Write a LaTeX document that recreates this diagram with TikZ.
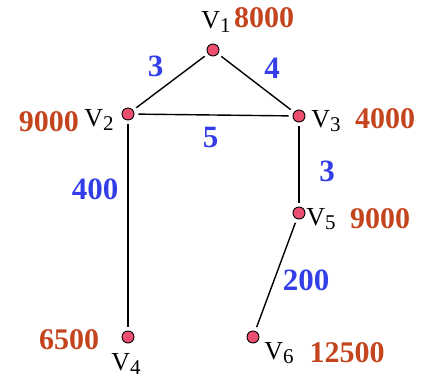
\documentclass[tikz,border=0pt]{standalone}
\usepackage{fontspec}
\setmainfont{Liberation Serif}
\usetikzlibrary{positioning}
\definecolor{vfill}{RGB}{236,78,112}
\definecolor{costred}{RGB}{196,68,30}
\definecolor{wblue}{RGB}{52,62,232}
\newcommand{\vname}[1]{V\raisebox{-0.4ex}{\fontsize{21}{21}\selectfont #1}}
\begin{document}
\begin{tikzpicture}
         [x=1pt, y=-1pt, main node/.style={circle,draw,fill=vfill,minimum size=12pt,inner sep=0pt,line width=0.9pt},
          edge/.style={line width=1.4pt,shorten <=4pt,shorten >=4pt},
          vlabel/.style={font=\fontsize{26}{26}\selectfont,inner sep=0pt},
          cost/.style={font=\fontsize{30}{30}\selectfont\bfseries,text=costred,inner sep=0pt},
          weight/.style={font=\fontsize{31}{31}\selectfont\bfseries,text=wblue,inner sep=0pt}]
         \useasboundingbox (0,0) rectangle (429,380);
         \node[main node] (v1) at (213,50) {};
         \node[main node] (v2) at (128,114) {};
         \node[main node] (v3) at (299,116) {};
         \node[main node] (v5) at (299,213) {};
         \node[main node] (v4) at (128,337) {};
         \node[main node] (v6) at (253,337) {};

         \node[vlabel] (n1) at (216,22) {\vname{1}};
         \node[vlabel] (n2) at (99,120) {\vname{2}};
         \node[vlabel] (n3) at (326,121) {\vname{3}};
         \node[vlabel] (n5) at (321,219) {\vname{5}};
         \node[vlabel] (n4) at (126,364) {\vname{4}};
         \node[vlabel] (n6) at (279,353) {\vname{6}};

         \node[cost] (c1) at (264,18) {8000};
         \node[cost] (c2) at (49,122) {9000};
         \node[cost] (c3) at (385,119) {4000};
         \node[cost] (c5) at (380,219) {9000};
         \node[cost] (c4) at (69,340) {6500};
         \node[cost] (c6) at (347,353) {12500};

         \draw[edge] (v1) -- node[weight, xshift=-15pt, yshift=16pt] {3} (v2);
         \draw[edge] (v1) -- node[weight, xshift=16pt, yshift=15pt] {4} (v3);
         \draw[edge] (v2) -- node[weight, xshift=-3pt, yshift=-23pt] {5} (v3);
         \draw[edge] (v3) -- node[weight, xshift=28pt, yshift=-7pt] {3} (v5);
         \draw[edge] (v2) -- node[weight, pos=0.33, xshift=-33pt] {400} (v4);
         \draw[edge] (v5) -- node[weight, xshift=30pt, yshift=-5pt] {200} (v6);
      \end{tikzpicture}
\end{document}
